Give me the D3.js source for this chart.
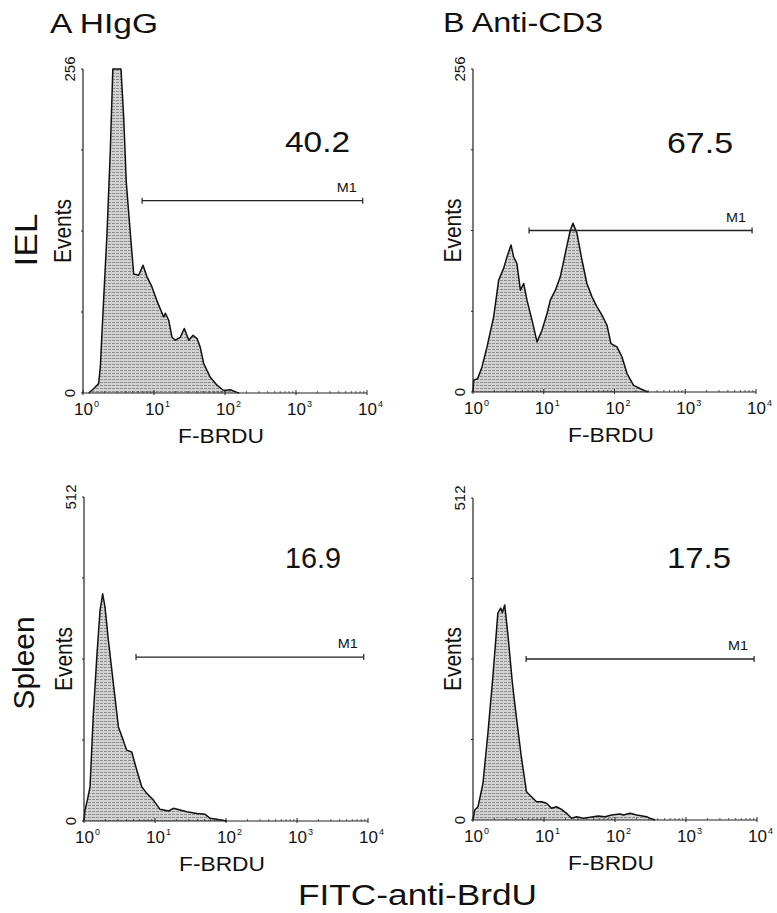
<!DOCTYPE html>
<html><head><meta charset="utf-8">
<script src="https://cdn.jsdelivr.net/npm/d3@7"></script>
<style>
body{margin:0;background:#fff}
svg{display:block}
text{font-family:"Liberation Sans",Arial,sans-serif;fill:#111}
</style>
</head><body>
<svg id="chart" width="777" height="913"></svg>
<script>
// ---------------- DATA ----------------
const columnTitles = ["A HIgG", "B Anti-CD3"];
const rowLabels = ["IEL", "Spleen"];
const xAxisLabel = "F-BRDU";
const commonXLabel = "FITC-anti-BrdU";
const yAxisLabel = "Events";
const xTickExponents = [0, 1, 2, 3, 4];
const yMaxIEL = 256;
const yMaxSpleen = 512;
const gateLabel = "M1";
const percentM1 = ["40.2", "67.5", "16.9", "17.5"];

// gates (fluorescence intensity)
const gateIelHigg = [6.8, 8700];
const gateIelCd3 = [6.2, 8800];
const gateSpleenHigg = [5.4, 8700];
const gateSpleenCd3 = [5.6, 9100];
// gate marker level (events)
const gateLevels = [152, 128, 259, 256];

// histograms: log10 fluorescence (decades) and events
const ielHiggLog = [0.08,0.15,0.22,0.244,0.29,0.338,0.385,0.42,0.535,0.573,0.61,0.667,0.714,0.784,0.845,0.9,0.97,1.04,1.136,1.16,1.207,1.254,1.3,1.37,1.427,1.49,1.55,1.606,1.65,1.70,1.79,1.89,1.98,2.075,2.17,2.2];
const ielHiggEvents = [0,3.4,7.4,20.6,73,126,192,256,256,218,166,126,94,93,101,92,84,73,60,63,57.5,44,41.7,44,51,41.7,45.6,43,36.4,23.2,12.7,6,2,2.6,0.5,0];

const ielCd3Log = [0.0,0.01,0.066,0.127,0.198,0.292,0.363,0.433,0.48,0.537,0.575,0.62,0.67,0.716,0.763,0.834,0.905,0.975,1.046,1.093,1.164,1.234,1.305,1.376,1.413,1.47,1.54,1.61,1.682,1.753,1.823,1.894,1.95,2.035,2.106,2.177,2.27,2.365,2.436,2.48];
const ielCd3Events = [0,9.3,10.6,19.9,35.7,59.6,88.7,98,107,116.5,107,102,80.7,86,72.8,57,39.7,49,62,72.8,80.7,91.3,110,128.4,133.7,125.7,104.6,86,75.4,67.5,60.9,52.9,38.4,35.7,27.8,14.6,5.3,2.6,0.8,0];

const spleenHiggLog = [0.0,0.014,0.047,0.085,0.13,0.18,0.226,0.263,0.296,0.343,0.414,0.484,0.545,0.60,0.672,0.743,0.813,0.884,0.978,1.07,1.19,1.26,1.354,1.448,1.59,1.706,1.777,1.87,1.988,2.01];
const spleenHiggEvents = [0,17,33,54,165,259,333,359,338,286,217,149,130,112,109,80.5,54,43.7,33,18.4,15.8,20,17.4,14.7,12,10.5,4.2,2.6,0.5,0];

const spleenCd3Log = [0.0,0.024,0.07,0.14,0.21,0.28,0.35,0.39,0.414,0.447,0.494,0.555,0.61,0.68,0.753,0.824,0.894,0.965,1.035,1.106,1.176,1.247,1.318,1.388,1.46,1.553,1.647,1.765,1.86,1.953,2.07,2.118,2.212,2.306,2.447,2.494,2.565];
const spleenCd3Events = [0,16,21,58,138,228,329,337,330,342,292,217.5,164.5,101,45,37,29,29,26.5,18.6,21,17,10.6,2.7,5.3,2.7,4.2,6.4,5.3,8,9.5,8,10.6,8,5.3,2.7,0];

// ---------------- LAYOUT ----------------
const panels = [
  {x0: 83, y0: 69, w: 284, h: 324, yMax: yMaxIEL, log: ielHiggLog, ev: ielHiggEvents, gate: gateIelHigg, gl: gateLevels[0], pct: percentM1[0], pctX: 285, pctY: 152, pctW: 65},
  {x0: 473, y0: 69, w: 283, h: 323, yMax: yMaxIEL, log: ielCd3Log, ev: ielCd3Events, gate: gateIelCd3, gl: gateLevels[1], pct: percentM1[1], pctX: 667, pctY: 153, pctW: 66},
  {x0: 84, y0: 497, w: 284, h: 324, yMax: yMaxSpleen, log: spleenHiggLog, ev: spleenHiggEvents, gate: gateSpleenHigg, gl: gateLevels[2], pct: percentM1[2], pctX: 285, pctY: 568, pctW: 56},
  {x0: 473, y0: 498, w: 284, h: 322, yMax: yMaxSpleen, log: spleenCd3Log, ev: spleenCd3Events, gate: gateSpleenCd3, gl: gateLevels[3], pct: percentM1[3], pctX: 667, pctY: 568, pctW: 64}
];

const svg = d3.select("#chart");
const defs = svg.append("defs");
const pat = defs.append("pattern").attr("id", "hatch").attr("patternUnits", "userSpaceOnUse")
  .attr("width", 4).attr("height", 3);
pat.append("rect").attr("width", 4).attr("height", 3).attr("fill", "#d2d2d2");
pat.append("rect").attr("x", 0).attr("y", 1).attr("width", 3).attr("height", 1).attr("fill", "#8e8e8e");

panels.forEach((p, i) => {
  const g = svg.append("g");
  const x = d3.scaleLog().domain([1, 10000]).range([p.x0, p.x0 + p.w]);
  const y = d3.scaleLinear().domain([0, p.yMax]).range([p.y0 + p.h, p.y0]);
  const pts = p.log.map((d, k) => [Math.pow(10, d), p.ev[k]]);

  g.append("path").datum(pts)
    .attr("d", d3.area().x(d => x(d[0])).y0(y(0)).y1(d => y(d[1])))
    .attr("fill", "url(#hatch)");
  g.append("path").datum(pts)
    .attr("d", d3.line().x(d => x(d[0])).y(d => y(d[1])))
    .attr("fill", "none").attr("stroke", "#111").attr("stroke-width", 1.5).attr("stroke-linejoin", "round");

  // y axis
  const yTicks = [0, p.yMax / 4, p.yMax / 2, 3 * p.yMax / 4, p.yMax];
  g.append("line").attr("x1", p.x0).attr("x2", p.x0).attr("y1", y(0)).attr("y2", y(p.yMax))
    .attr("stroke", "#222").attr("stroke-width", 1.2);
  g.selectAll(".yt").data(yTicks).enter().append("line")
    .attr("x1", p.x0 - 2).attr("x2", p.x0).attr("y1", d => y(d)).attr("y2", d => y(d))
    .attr("stroke", "#222").attr("stroke-width", 1);
  [0, p.yMax].forEach(v => {
    g.append("text").attr("transform", `translate(${p.x0 - 8},${y(v)}) rotate(-90)`)
      .attr("text-anchor", "middle").attr("font-size", 15).text(v);
  });
  g.append("text").attr("transform", `translate(${p.x0 - 12},${p.y0 + p.h / 2}) rotate(-90)`)
    .attr("text-anchor", "middle").attr("font-size", 23).attr("textLength", 64)
    .attr("lengthAdjust", "spacingAndGlyphs").text(yAxisLabel);

  // x axis
  g.append("line").attr("x1", p.x0).attr("x2", p.x0 + p.w).attr("y1", y(0)).attr("y2", y(0))
    .attr("stroke", "#222").attr("stroke-width", 1.2);
  const minor = [];
  for (let e = 0; e < 4; e++) for (let m = 2; m <= 9; m++) minor.push(m * Math.pow(10, e));
  g.selectAll(".xm").data(minor).enter().append("line")
    .attr("x1", d => x(d)).attr("x2", d => x(d)).attr("y1", y(0) - 2).attr("y2", y(0))
    .attr("stroke", "#333").attr("stroke-width", 0.8);
  g.selectAll(".xM").data(xTickExponents).enter().append("line")
    .attr("x1", d => x(Math.pow(10, d))).attr("x2", d => x(Math.pow(10, d)))
    .attr("y1", y(0) - 3).attr("y2", y(0) + 2)
    .attr("stroke", "#222").attr("stroke-width", 1);
  xTickExponents.forEach(e => {
    const t = g.append("text").attr("x", x(Math.pow(10, e)) - 9).attr("y", y(0) + 22)
      .attr("font-size", 17);
    t.append("tspan").text("10");
    t.append("tspan").attr("font-size", 9).attr("dy", -8).attr("dx", 1).text(e);
  });
  g.append("text").attr("x", p.x0 + 138).attr("y", y(0) + 50).attr("text-anchor", "middle")
    .attr("font-size", 21).attr("textLength", 86).attr("lengthAdjust", "spacingAndGlyphs").text(xAxisLabel);

  // gate marker
  const gy = y(p.gl), gx1 = x(p.gate[0]), gx2 = x(p.gate[1]);
  g.append("line").attr("x1", gx1).attr("x2", gx2).attr("y1", gy).attr("y2", gy)
    .attr("stroke", "#222").attr("stroke-width", 1.4);
  [gx1, gx2].forEach(xx => g.append("line").attr("x1", xx).attr("x2", xx).attr("y1", gy - 3).attr("y2", gy + 3)
    .attr("stroke", "#222").attr("stroke-width", 1.2));
  g.append("text").attr("x", gx2 - 6).attr("y", gy - 9).attr("text-anchor", "end")
    .attr("font-size", 13).attr("textLength", 20).attr("lengthAdjust", "spacingAndGlyphs").text(gateLabel);

  // percentage
  g.append("text").attr("x", p.pctX).attr("y", p.pctY).attr("font-size", 30)
    .attr("textLength", p.pctW).attr("lengthAdjust", "spacingAndGlyphs").text(p.pct);
});

// column titles
svg.append("text").attr("x", 50).attr("y", 33).attr("font-size", 27)
  .attr("textLength", 108).attr("lengthAdjust", "spacingAndGlyphs").text(columnTitles[0]);
svg.append("text").attr("x", 443).attr("y", 32).attr("font-size", 27)
  .attr("textLength", 160).attr("lengthAdjust", "spacingAndGlyphs").text(columnTitles[1]);

// row labels
svg.append("text").attr("transform", "translate(37,240) rotate(-90)").attr("text-anchor", "middle")
  .attr("font-size", 32).attr("textLength", 53).attr("lengthAdjust", "spacingAndGlyphs").text(rowLabels[0]);
svg.append("text").attr("transform", "translate(34,663) rotate(-90)").attr("text-anchor", "middle")
  .attr("font-size", 30).attr("textLength", 93).attr("lengthAdjust", "spacingAndGlyphs").text(rowLabels[1]);

// common x label
svg.append("text").attr("x", 298).attr("y", 905).attr("font-size", 30)
  .attr("textLength", 239).attr("lengthAdjust", "spacingAndGlyphs").text(commonXLabel);
</script>
</body></html>
